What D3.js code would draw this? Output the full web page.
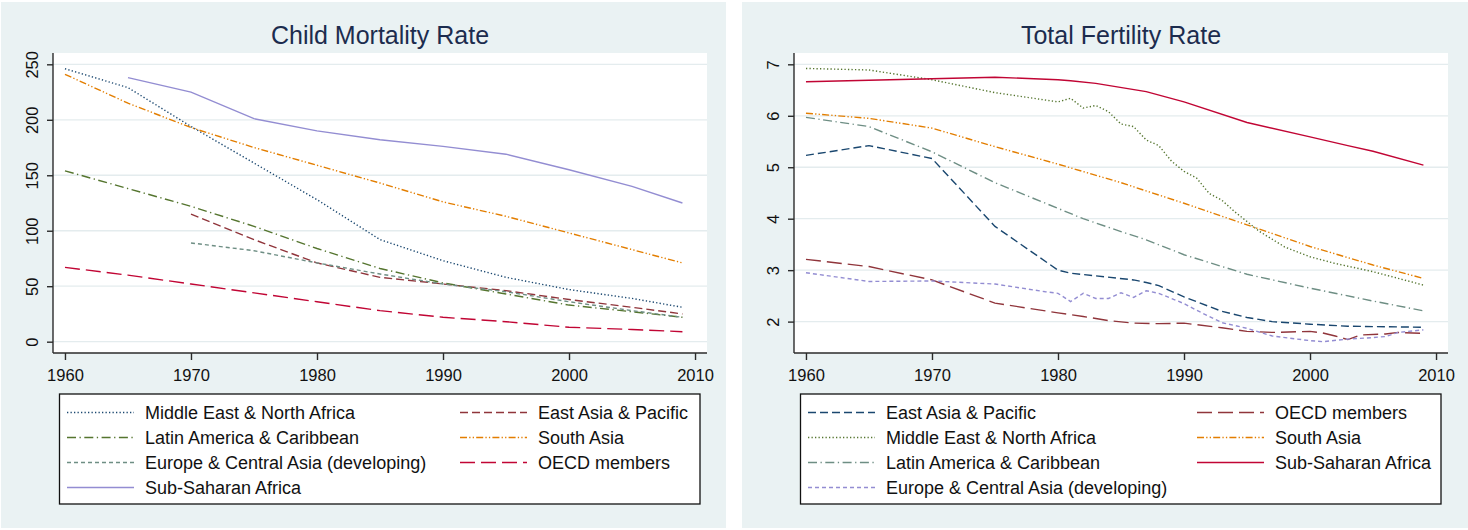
<!DOCTYPE html>
<html>
<head>
<meta charset="utf-8">
<script src="https://cdn.jsdelivr.net/npm/d3@7"></script>
<style>
  html, body { margin: 0; padding: 0; background: #ffffff; }
  svg { display: block; }
  text { font-family: "Liberation Sans", Arial, sans-serif; }
</style>
</head>
<body>
<svg id="chart" width="1468" height="530"></svg>
<script>
// ---------------- DATA ----------------
// Child Mortality Rate (per 1,000), 5-year observations
const cmYears = [1960, 1965, 1970, 1975, 1980, 1985, 1990, 1995, 2000, 2005, 2009];
const cmMENA  = [246, 229, 194, 161, 128, 92, 73, 58, 47, 39, 31];
const cmEAP   = [null, null, 115, 92, 71, 58, 52, 46, 38, 31, 25];
const cmLAC   = [154, 138, 122, 104, 84, 66, 53, 43, 33, 27, 22];
const cmSAS   = [241, 215, 193, 175, 159, 143, 126, 113, 98, 83, 71];
const cmECA   = [null, null, 89, 82, 71, 61, 52, 45, 36, 28, 22];
const cmOECD  = [67, 60, 52, 44, 36, 28, 22, 18, 13, 11, 9];
const cmSSA   = [null, 238, 225, 201, 190, 182, 176, 169, 155, 140, 125];

// Total Fertility Rate, [year, value]
const tfrEAP = [[1960,5.23],[1965,5.42],[1970,5.17],[1975,3.85],[1980,3.00],[1981,2.94],[1983,2.89],[1986,2.81],[1987,2.76],[1988,2.70],[1990,2.48],[1993,2.20],[1995,2.08],[1997,2.00],[2000,1.95],[2003,1.91],[2009,1.89]];
const tfrOECD = [[1960,3.21],[1965,3.07],[1970,2.81],[1975,2.36],[1980,2.17],[1982,2.10],[1984,2.02],[1986,1.97],[1988,1.96],[1990,1.97],[1993,1.88],[1995,1.81],[1997,1.79],[2000,1.81],[2001,1.78],[2002,1.72],[2003,1.65],[2004,1.74],[2006,1.76],[2007,1.79],[2009,1.77]];
const tfrMENA = [[1960,6.92],[1965,6.89],[1970,6.70],[1975,6.45],[1980,6.27],[1981,6.34],[1982,6.15],[1983,6.20],[1984,6.08],[1985,5.84],[1986,5.79],[1987,5.53],[1988,5.42],[1989,5.12],[1990,4.92],[1991,4.79],[1992,4.49],[1993,4.36],[1994,4.14],[1996,3.75],[1998,3.45],[2000,3.26],[2002,3.13],[2005,2.97],[2009,2.71]];
const tfrSAS = [[1960,6.05],[1965,5.95],[1970,5.76],[1975,5.40],[1980,5.06],[1985,4.70],[1990,4.30],[1995,3.88],[2000,3.46],[2005,3.10],[2009,2.84]];
const tfrLAC = [[1960,5.97],[1965,5.79],[1970,5.30],[1975,4.70],[1980,4.20],[1982,4.00],[1985,3.75],[1987,3.59],[1990,3.30],[1995,2.92],[2000,2.65],[2005,2.40],[2009,2.21]];
const tfrSSA = [[1960,6.66],[1965,6.69],[1970,6.72],[1975,6.75],[1980,6.70],[1981,6.68],[1983,6.63],[1987,6.47],[1990,6.27],[1995,5.87],[2000,5.59],[2003,5.42],[2005,5.31],[2009,5.04]];
const tfrECA = [[1960,2.95],[1965,2.78],[1970,2.79],[1975,2.73],[1979,2.58],[1980,2.55],[1981,2.39],[1982,2.55],[1983,2.45],[1984,2.45],[1985,2.56],[1986,2.47],[1987,2.60],[1988,2.55],[1990,2.35],[1991,2.22],[1993,1.98],[1995,1.87],[1997,1.72],[2000,1.63],[2001,1.61],[2003,1.66],[2005,1.69],[2006,1.71],[2007,1.79],[2009,1.84]];

const xTicks = [1960, 1970, 1980, 1990, 2000, 2010];
const cmTicks = [0, 50, 100, 150, 200, 250];
const tfrTicks = [2, 3, 4, 5, 6, 7];

// ---------------- STYLES ----------------
const C = {
  navy: "#1a476f", maroon: "#90353b", green: "#55752f", orange: "#e37e00",
  teal: "#6e8e84", cranberry: "#c10534", lavender: "#938dd2"
};
const DASH = {
  dot: "1.3,2.2",
  dash: "8,4",
  longdash: "15,6",
  shortdash: "4,3",
  dashdot: "9,3.5,1.3,3.5",
  dashdotdot: "7,2.2,1.3,2.2,1.3,2.2",
  solid: null
};

const cmSeries = [
  {name: "Middle East & North Africa", vals: cmMENA, color: C.navy, dash: DASH.dot},
  {name: "East Asia & Pacific", vals: cmEAP, color: C.maroon, dash: DASH.dash},
  {name: "Latin America & Caribbean", vals: cmLAC, color: C.green, dash: DASH.dashdot},
  {name: "South Asia", vals: cmSAS, color: C.orange, dash: DASH.dashdotdot},
  {name: "Europe & Central Asia (developing)", vals: cmECA, color: C.teal, dash: DASH.shortdash},
  {name: "OECD members", vals: cmOECD, color: C.cranberry, dash: DASH.longdash},
  {name: "Sub-Saharan Africa", vals: cmSSA, color: C.lavender, dash: DASH.solid}
].map(s => ({...s, pts: cmYears.map((y, i) => [y, s.vals[i]])}));

const tfrSeries = [
  {name: "East Asia & Pacific", pts: tfrEAP, color: C.navy, dash: DASH.dash},
  {name: "OECD members", pts: tfrOECD, color: C.maroon, dash: DASH.longdash},
  {name: "Middle East & North Africa", pts: tfrMENA, color: C.green, dash: DASH.dot},
  {name: "South Asia", pts: tfrSAS, color: C.orange, dash: DASH.dashdotdot},
  {name: "Latin America & Caribbean", pts: tfrLAC, color: C.teal, dash: DASH.dashdot},
  {name: "Sub-Saharan Africa", pts: tfrSSA, color: C.cranberry, dash: DASH.solid},
  {name: "Europe & Central Asia (developing)", pts: tfrECA, color: C.lavender, dash: DASH.shortdash}
];

const svg = d3.select("#chart");
const BG = "#eaf2f3";

function panel(cfg) {
  const g = svg.append("g");
  // graph region background
  g.append("rect").attr("x", cfg.bx).attr("y", 2).attr("width", cfg.bw).attr("height", 526).attr("fill", BG);
  // plot region
  const L = cfg.px, R = cfg.px + 654, T = 53, B = 353;
  g.append("rect").attr("x", L).attr("y", T).attr("width", R - L).attr("height", B - T).attr("fill", "#ffffff");

  const x = d3.scaleLinear().domain([1959.05, 2010.95]).range([L, R]);
  const y = d3.scaleLinear().domain(cfg.ydom).range([B, T]);

  // gridlines
  g.append("g").selectAll("line").data(cfg.yticks).join("line")
    .attr("x1", L).attr("x2", R).attr("y1", d => y(d)).attr("y2", d => y(d))
    .attr("stroke", "#e4ecee").attr("stroke-width", 1.3);

  // title
  g.append("text").attr("x", (L + R) / 2).attr("y", 44).attr("text-anchor", "middle")
    .attr("font-size", "25px").attr("fill", "#1c2c4e").text(cfg.title);

  // series
  const line = d3.line().defined(d => d[1] != null).x(d => x(d[0])).y(d => y(d[1]));
  g.append("g").attr("clip-path", null).selectAll("path").data(cfg.series).join("path")
    .attr("d", s => line(s.pts)).attr("fill", "none")
    .attr("stroke", s => s.color).attr("stroke-width", 1.4)
    .attr("stroke-dasharray", s => s.dash);

  // axes
  const ya = g.append("g").attr("transform", `translate(${L},0)`)
    .call(d3.axisLeft(y).tickValues(cfg.yticks).tickSize(6).tickFormat(d3.format("d")));
  ya.select(".domain").attr("d", `M0,${B}V${T}`);
  ya.selectAll("text").attr("transform", "rotate(-90)").attr("x", 0).attr("y", -15.5)
    .attr("dy", 0).attr("text-anchor", "middle");

  const xa = g.append("g").attr("transform", `translate(0,${B})`)
    .call(d3.axisBottom(x).tickValues(xTicks).tickSize(7).tickFormat(d3.format("d")));
  xa.select(".domain").attr("d", `M${L},0H${R}`);
  xa.selectAll("text").attr("y", 28).attr("dy", 0);

  [ya, xa].forEach(a => {
    a.attr("font-family", null).attr("font-size", null);
    a.selectAll("path, line").attr("stroke", "#2b2b2b").attr("stroke-width", 1.4);
    a.selectAll("text").attr("font-size", "16.5px").attr("fill", "#111");
  });

  // legend
  const lg = g.append("g");
  lg.append("rect").attr("x", cfg.lx).attr("y", 394).attr("width", cfg.lw).attr("height", 110)
    .attr("fill", "#ffffff").attr("stroke", "#111").attr("stroke-width", 1.3);
  cfg.series.forEach((s, i) => {
    const col = i % 2, row = Math.floor(i / 2);
    const cy = 412.5 + row * 25;
    const sx = cfg.legCols[col];
    lg.append("line").attr("x1", sx).attr("x2", sx + 67).attr("y1", cy).attr("y2", cy)
      .attr("stroke", s.color).attr("stroke-width", 1.4).attr("stroke-dasharray", s.dash);
    lg.append("text").attr("x", sx + 78).attr("y", cy + 6.5).attr("font-size", "18px")
      .attr("fill", "#111").text(s.name);
  });
}

panel({
  bx: 1, bw: 725, px: 53, ydom: [-10.2, 260.2], yticks: cmTicks,
  title: "Child Mortality Rate", series: cmSeries,
  lx: 59.5, lw: 640.5, legCols: [67, 460]
});
panel({
  bx: 742, bw: 726, px: 794, ydom: [1.39, 7.22], yticks: tfrTicks,
  title: "Total Fertility Rate", series: tfrSeries,
  lx: 800.5, lw: 640.5, legCols: [808, 1197]
});
</script>
</body>
</html>
